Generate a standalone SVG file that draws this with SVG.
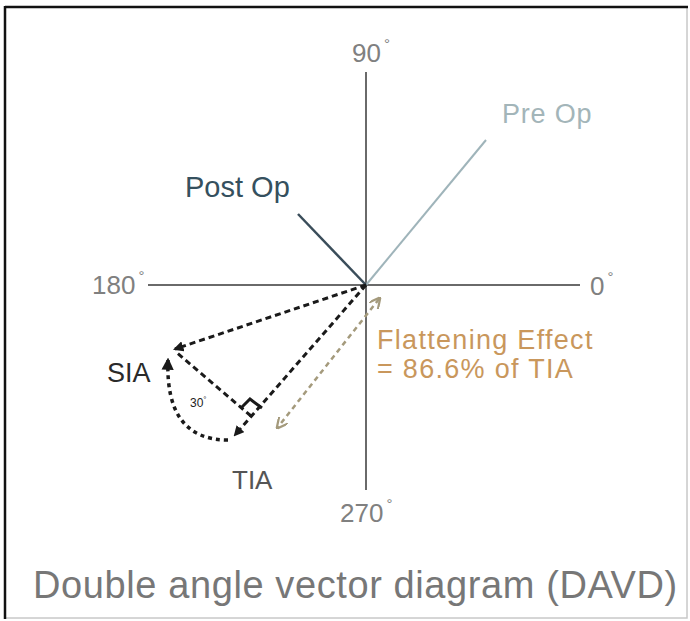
<svg xmlns="http://www.w3.org/2000/svg" width="690" height="621" viewBox="0 0 690 621">
<defs>
<style>
text{font-family:"Liberation Sans",Arial,sans-serif}
.ax{fill:#808080;font-size:26px}
.deg{font-size:15px}
.axis{stroke:#6a6a6a;stroke-width:2;fill:none}
.dash{stroke:#1a1a1a;stroke-width:3;stroke-dasharray:6 4;fill:none}
.dot{stroke:#1a1a1a;stroke-width:3.5;stroke-dasharray:4 4;fill:none}
.flat{stroke:#a49a7c;stroke-width:2.5;stroke-dasharray:5 4;fill:none}
</style>
<marker id="ah" viewBox="0 0 10 10" refX="8" refY="5" markerWidth="3.5" markerHeight="3.5" orient="auto" markerUnits="strokeWidth">
<path d="M0,0 L10,5 L0,10 z" fill="#1a1a1a"/>
</marker>
<marker id="ahf" viewBox="0 0 10 10" refX="8" refY="5" markerWidth="4.5" markerHeight="4.5" orient="auto-start-reverse" markerUnits="strokeWidth">
<path d="M0,0 L10,5 L0,10" fill="none" stroke="#a49a7c" stroke-width="2"/>
</marker>
</defs>
<rect x="0" y="0" width="690" height="621" fill="#ffffff"/>
<g id="frame">
<rect x="5" y="7" width="682" height="611" fill="none" stroke="#c8c8c8" stroke-width="1.5"/>
<line x1="5" y1="7" x2="688" y2="7" stroke="#111" stroke-width="2.5"/>
<line x1="5" y1="6" x2="5" y2="619" stroke="#111" stroke-width="2.5"/>
</g>
<g id="connectors">
<line class="axis" x1="148" y1="285" x2="580" y2="285"/>
<line class="axis" x1="366" y1="72" x2="366" y2="490"/>
<line x1="366" y1="285" x2="486" y2="140" stroke="#9fb4ba" stroke-width="2"/>
<line x1="366" y1="285" x2="298" y2="214" stroke="#3a4d5a" stroke-width="2.5"/>
<line class="dash" x1="366" y1="285" x2="175" y2="349" marker-end="url(#ah)"/>
<line class="dash" x1="366" y1="285" x2="235" y2="435" marker-end="url(#ah)"/>
<line class="dash" x1="251" y1="416" x2="176" y2="352"/>
<path d="M241,408 L250,399 L262,408" fill="none" stroke="#1a1a1a" stroke-width="3"/>
<path class="dot" d="M228,440 Q165,440 168,360" marker-end="url(#ah)"/>
<line class="flat" x1="379" y1="299" x2="278" y2="427" marker-start="url(#ahf)" marker-end="url(#ahf)"/>
</g>
<g id="axis-labels">
<text class="ax" x="352" y="62">90<tspan class="deg" dx="3" dy="-13">°</tspan></text>
<text class="ax" x="92" y="294">180<tspan class="deg" dx="3" dy="-13">°</tspan></text>
<text class="ax" x="590" y="295">0<tspan class="deg" dx="3" dy="-13">°</tspan></text>
<text class="ax" x="340" y="522">270<tspan class="deg" dx="3" dy="-13">°</tspan></text>
</g>
<g id="pre-op"><text x="502" y="123" font-size="27" fill="#a3b5b9" letter-spacing="0.8">Pre Op</text></g>
<g id="post-op"><text x="185" y="197" font-size="29" fill="#35505e">Post Op</text></g>
<g id="sia"><text x="107" y="382" font-size="27" fill="#2a2a2a">SIA</text></g>
<g id="tia"><text x="232" y="489" font-size="26" fill="#555">TIA</text></g>
<g id="angle"><text x="190" y="407" font-size="12" fill="#222">30<tspan font-size="8" dy="-5">°</tspan></text></g>
<g id="flattening">
<text x="377" y="349" font-size="27" fill="#c9975c" letter-spacing="1.3">Flattening Effect</text>
<text x="377" y="378" font-size="27" fill="#c9975c" letter-spacing="1.3">= 86.6% of TIA</text>
</g>
<g id="title"><text x="33" y="598" font-size="38" fill="#777" letter-spacing="0.6">Double angle vector diagram (DAVD)</text></g>
</svg>
